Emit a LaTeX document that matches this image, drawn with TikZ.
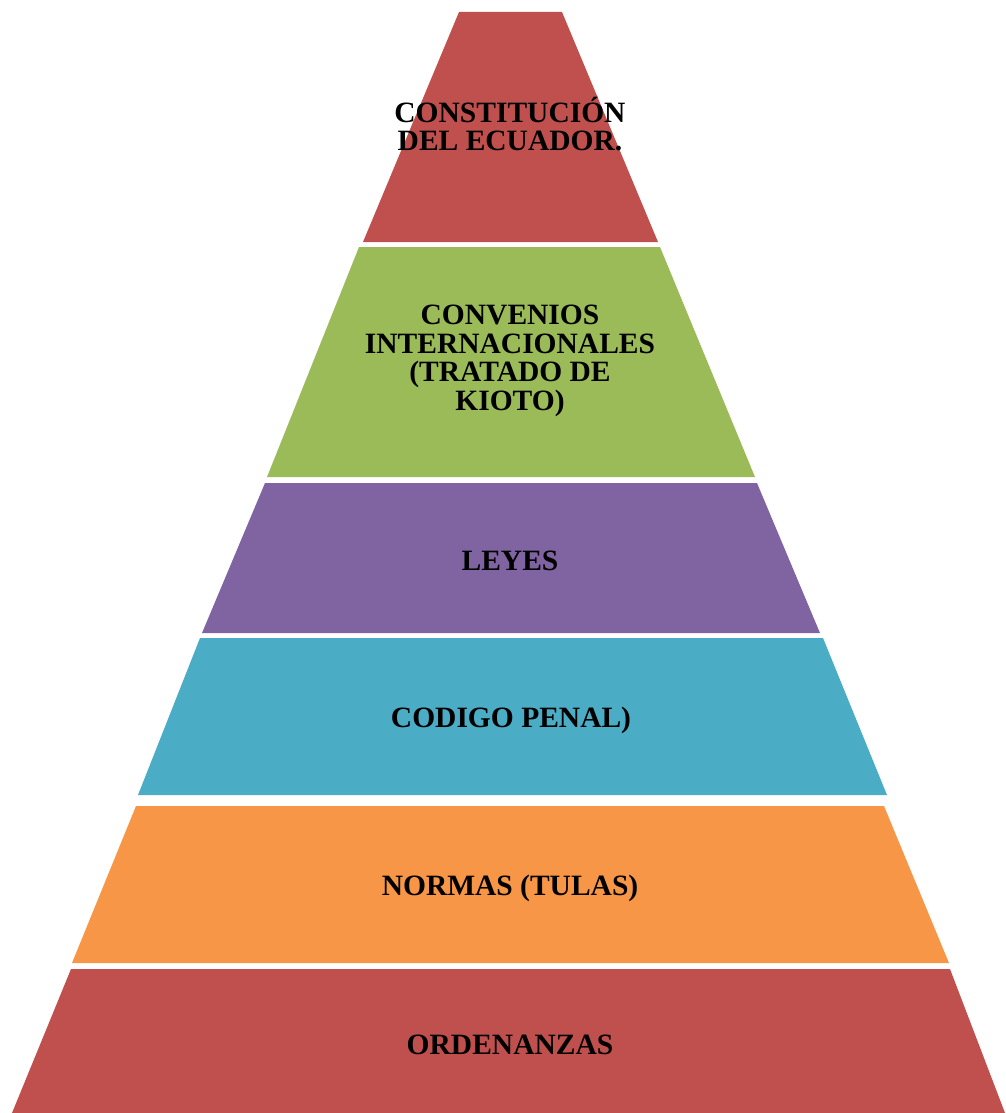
\documentclass[tikz,border=0pt]{standalone}
\usepackage{fontspec}
\setmainfont{Liberation Serif}
\definecolor{pyrred}{HTML}{C0504D}
\definecolor{pyrgreen}{HTML}{9BBB59}
\definecolor{pyrpurple}{HTML}{8064A2}
\definecolor{pyrcyan}{HTML}{4BACC6}
\definecolor{pyrorange}{HTML}{F79646}
\tikzset{
  lbl/.style={align=center, text=black, inner sep=0pt,
    font=\fontsize{29.5}{28.5}\selectfont\bfseries}
}
\begin{document}
\begin{tikzpicture}[x=1pt,y=-1pt]

    \useasboundingbox (0,0) rectangle (1005,1113);

    % pyramid layers: top y / top left / top right / bottom y / bottom left / bottom right
    \foreach \yt/\xtl/\xtr/\yb/\xbl/\xbr/\col in {
        12/459/562/242/363/658/pyrred,
        247/359/660/477/267/755/pyrgreen,
        483/265/757/633/202/820/pyrpurple,
        638/200/823/795/138/887/pyrcyan,
        806/136/884/963/72/949/pyrorange,
        969/71/950/1113/12/1005/pyrred} {
      \fill[\col] (\xtl,\yt) -- (\xtr,\yt) -- (\xbr,\yb) -- (\xbl,\yb) -- cycle;
    }

    \node[lbl] (constitucion) at (510,124) {CONSTITUCIÓN\\DEL ECUADOR.};
    \node[lbl] (convenios) at (510,361) {CONVENIOS\\INTERNACIONALES\\(TRATADO DE\\KIOTO)};
    \node[lbl] (leyes) at (510,561) {LEYES};
    \node[lbl] (codigo) at (511,720) {CODIGO PENAL)};
    \node[lbl] (normas) at (510,888) {NORMAS (TULAS)};
    \node[lbl] (ordenanzas) at (510,1045) {ORDENANZAS};

  \end{tikzpicture}
\end{document}
